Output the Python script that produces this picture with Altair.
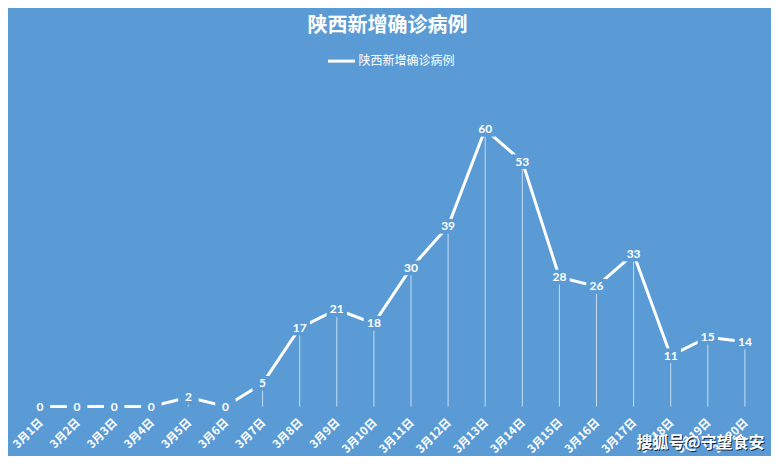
import altair as alt
import pandas as pd

dates = ["3月1日", "3月2日", "3月3日", "3月4日", "3月5日", "3月6日", "3月7日",
         "3月8日", "3月9日", "3月10日", "3月11日", "3月12日", "3月13日", "3月14日",
         "3月15日", "3月16日", "3月17日", "3月18日", "3月19日", "3月20日"]
values = [0, 0, 0, 0, 2, 0, 5, 17, 21, 18, 30, 39, 60, 53, 28, 26, 33, 11, 15, 14]
series_name = "陕西新增确诊病例"
title_text = "陕西新增确诊病例"
watermark = "搜狐号@守望食安"

BG = "#5b9bd5"
FONT = "Noto Sans CJK SC"

df = pd.DataFrame({"date": dates, "value": values, "series": [series_name] * len(dates)})

x = alt.X("date:N", sort=dates, scale=alt.Scale(type="point", padding=0.5),
          axis=alt.Axis(title=None, labelAngle=-45, labelAlign="right", labelBaseline="middle",
                        labelColor="white", labelFontSize=11.5, labelFontWeight="bold",
                        labelFont=FONT, labelPadding=14, labelOffset=1,
                        ticks=False, domain=False, grid=False, labelOverlap=False))
y = alt.Y("value:Q", scale=alt.Scale(domain=[0, 70]), axis=None)

base = alt.Chart(df)

rules = base.mark_rule(color="white", opacity=0.65, strokeWidth=1).encode(
    x=x, y=y, y2=alt.datum(0))

line = base.mark_line(strokeWidth=3).encode(
    x=x, y=y,
    color=alt.Color("series:N", scale=alt.Scale(range=["white"]),
                    legend=alt.Legend(title=None, orient="none", legendX=305, legendY=-37,
                                      symbolType="stroke", symbolSize=729, symbolStrokeWidth=3,
                                      labelColor="white", labelFontSize=12, labelFont=FONT,
                                      padding=0, labelOffset=2)))

boxes = base.mark_point(shape="M-1,-0.72L1,-0.72L1,0.72L-1,0.72Z", filled=True,
                        color=BG, opacity=1, size=420, strokeWidth=0).encode(x=x, y=y)

labels = base.mark_text(color="white", fontSize=12, fontWeight="bold", font="Lato",
                        baseline="middle", align="center").encode(
    x=x, y=y, text=alt.Text("value:Q"))

wm_df = pd.DataFrame({"t": [watermark]})
wm_shadow = alt.Chart(wm_df).mark_text(color="#1a2a3a", fontSize=16, fontWeight="bold",
                                       font=FONT, align="center", baseline="middle",
                                       dx=1, dy=1).encode(
    text="t:N", x=alt.value(679), y=alt.value(360))
wm = alt.Chart(wm_df).mark_text(color="white", fontSize=16, fontWeight="bold",
                                font=FONT, align="center", baseline="middle").encode(
    text="t:N", x=alt.value(679), y=alt.value(360))

chart = alt.layer(rules, line, boxes, labels, wm_shadow, wm).properties(
    width=742, height=323.4,
    autosize=alt.AutoSizeParams(type="none"),
    padding={"left": 13.45, "right": 7.55, "top": 75.1, "bottom": 49.5},
    title=alt.TitleParams(title_text, fontSize=20, fontWeight="bold", color="white",
                          font=FONT, anchor="middle", frame="group", offset=10, dx=-5),
).configure(background=BG).configure_view(stroke=None)

chart.save("out.html", embed_options={"renderer": "svg", "actions": False})
